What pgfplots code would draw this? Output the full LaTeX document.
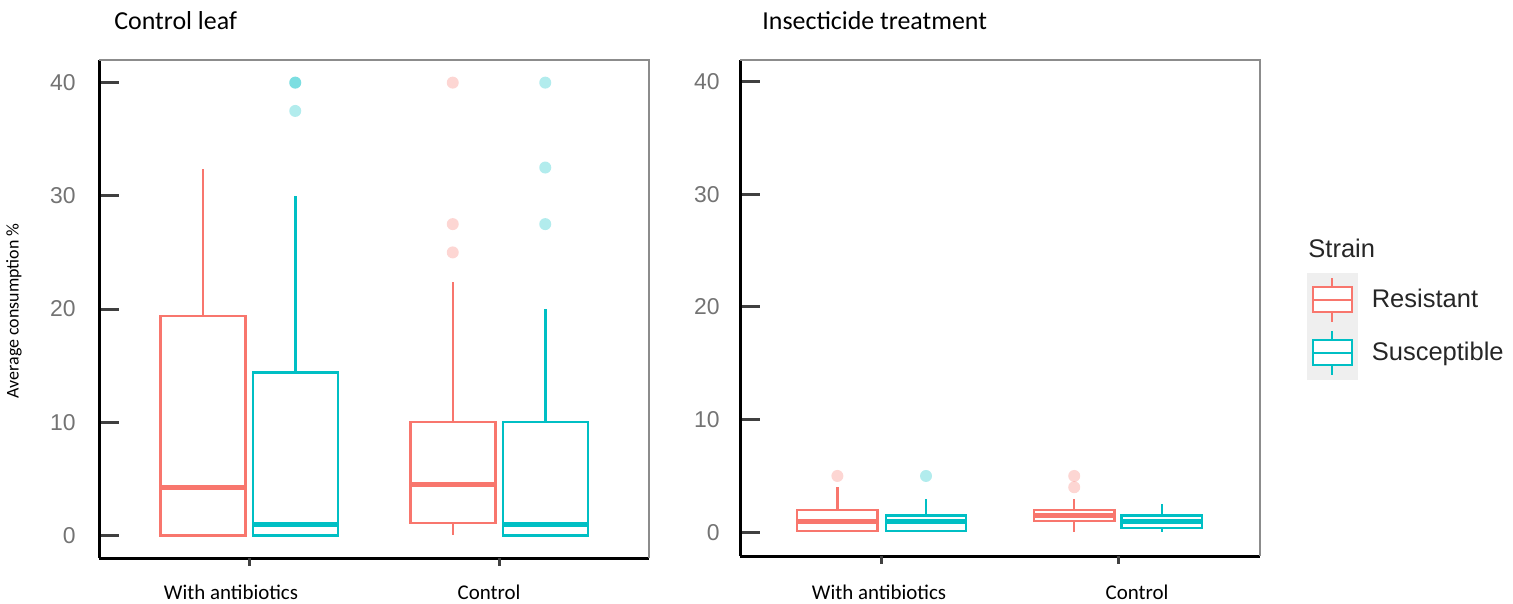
\documentclass[border=0pt]{standalone}
\usepackage{pgfplots}
\pgfplotsset{compat=1.18}
\usepgfplotslibrary{statistics}
\usepackage{fontspec}
\setmainfont{Carlito}
\newfontfamily\arial{Liberation Sans}
\definecolor{rcol}{HTML}{F8766D}
\definecolor{scol}{HTML}{00BFC4}
\definecolor{tickgray}{HTML}{737373}
\definecolor{keybg}{HTML}{EFEFEF}
\definecolor{framegray}{HTML}{8C8C8C}

\pgfplotsset{
  mybox/.style={
    scale only axis,
    axis lines=left,
    axis line style={-, line width=1.5bp, black},
    xmin=0.4, xmax=2.6,
    xtick={1,2}, xticklabels={},
    ytick={0,10,20,30,40},
    tick align=inside,
    major tick length=10bp,
    ytick style={line width=1.5bp, black!75},
    xtick style={draw=none},
    yticklabel style={font=\arial\fontsize{11.5}{12}\selectfont, text=tickgray, inner sep=0pt},
    /pgf/number format/assume math mode=true,
    clip=false,
    boxplot/draw direction=y,
    boxplot/box extend=0.34,
    boxplot/whisker extend=0,
    boxplot/every box/.style={fill=white, line width=1.25bp},
    boxplot/every whisker/.style={line width=1.25bp},
    boxplot/every median/.style={line width=2.5bp},
  },
  rbox/.style={draw=rcol, solid, mark=*, mark size=3bp,
    mark options={draw opacity=0, fill=rcol, fill opacity=0.3}, forget plot},
  sbox/.style={draw=scol, solid, mark=*, mark size=3bp,
    mark options={draw opacity=0, fill=scol, fill opacity=0.3}, forget plot},
}

\begin{document}
\begin{tikzpicture}
\useasboundingbox (0,0) rectangle (756.5bp,302bp);

% ---------------- Left panel: Control leaf ----------------
\begin{axis}[mybox,
  at={(49.5bp,23bp)}, anchor=south west,
  width=275bp, height=249bp,
  ymin=-2, ymax=42,
  yticklabel style={xshift=-11.5bp},
]
\addplot[rbox, boxplot prepared={draw position=0.815,
  lower whisker=0, lower quartile=0, median=4.2, upper quartile=19.4, upper whisker=32.4}]
  coordinates {};
\addplot[sbox, boxplot prepared={draw position=1.185,
  lower whisker=0, lower quartile=0, median=1, upper quartile=14.4, upper whisker=30}]
  table[row sep=\\, y index=0] {y\\40\\40\\37.5\\};
\addplot[rbox, boxplot prepared={draw position=1.815,
  lower whisker=0, lower quartile=1.1, median=4.5, upper quartile=10, upper whisker=22.4}]
  table[row sep=\\, y index=0] {y\\40\\27.5\\25\\};
\addplot[sbox, boxplot prepared={draw position=2.185,
  lower whisker=0, lower quartile=0, median=1, upper quartile=10, upper whisker=20}]
  table[row sep=\\, y index=0] {y\\40\\32.5\\27.5\\};
\draw[framegray, line width=1bp] (rel axis cs:0,1) -- (rel axis cs:1,1) -- (rel axis cs:1,0);
\draw[line width=1.5bp, black!75] (axis cs:1,-2) -- ([yshift=-4bp]axis cs:1,-2);
\draw[line width=1.5bp, black!75] (axis cs:2,-2) -- ([yshift=-4bp]axis cs:2,-2);
\end{axis}

% ---------------- Right panel: Insecticide treatment ----------------
\begin{axis}[mybox,
  at={(370bp,24bp)}, anchor=south west,
  width=260bp, height=248bp,
  ymin=-2.1, ymax=41.9,
  yticklabel style={xshift=-10bp},
  legend style={at={(1.0904,0.5706)}, anchor=north west, draw=none, fill=none,
    inner sep=0pt, outer sep=0pt, row sep=0pt,
    nodes={inner sep=0pt, text=black!85},
    font=\arial\fontsize{12.8}{13}\selectfont,
    /tikz/every odd column/.append style={column sep=7bp}},
  legend cell align=left,
]
\addplot[rbox, boxplot prepared={draw position=0.812,
  lower whisker=0, lower quartile=0.1, median=1, upper quartile=2, upper whisker=4}]
  table[row sep=\\, y index=0] {y\\5\\};
\addplot[sbox, boxplot prepared={draw position=1.187,
  lower whisker=0, lower quartile=0.1, median=1, upper quartile=1.5, upper whisker=3}]
  table[row sep=\\, y index=0] {y\\5\\};
\addplot[rbox, boxplot prepared={draw position=1.814,
  lower whisker=0, lower quartile=1, median=1.5, upper quartile=2, upper whisker=3}]
  table[row sep=\\, y index=0] {y\\5\\4\\};
\addplot[sbox, boxplot prepared={draw position=2.185,
  lower whisker=0, lower quartile=0.4, median=1, upper quartile=1.5, upper whisker=2.5}]
  coordinates {};
\draw[framegray, line width=1bp] (rel axis cs:0,1) -- (rel axis cs:1,1) -- (rel axis cs:1,0);
\draw[line width=1.5bp, black!75] (axis cs:1,-2.1) -- ([yshift=-4bp]axis cs:1,-2.1);
\draw[line width=1.5bp, black!75] (axis cs:2,-2.1) -- ([yshift=-4bp]axis cs:2,-2.1);

\addlegendimage{legend image code/.code={%
  \fill[keybg] (0bp,-13.125bp) rectangle (25bp,13.125bp);
  \draw[rcol, line width=1bp] (12.5bp,-11bp) -- (12.5bp,11bp);
  \draw[rcol, line width=1bp, fill=white] (3bp,-6.25bp) rectangle (22.5bp,6.25bp);
  \draw[rcol, line width=1bp] (3bp,0bp) -- (22.5bp,0bp);
}}
\addlegendentry{Resistant}
\addlegendimage{legend image code/.code={%
  \fill[keybg] (0bp,-13.125bp) rectangle (25bp,13.125bp);
  \draw[scol, line width=1bp] (12.5bp,-11bp) -- (12.5bp,11bp);
  \draw[scol, line width=1bp, fill=white] (3bp,-6.25bp) rectangle (22.5bp,6.25bp);
  \draw[scol, line width=1bp] (3bp,0bp) -- (22.5bp,0bp);
}}
\addlegendentry{Susceptible}
\end{axis}

% ---------------- Titles and labels ----------------
\node[anchor=base west, inner sep=0pt, font=\fontsize{13}{15}\selectfont] at (57bp,287bp) {Control leaf};
\node[anchor=base west, inner sep=0pt, font=\fontsize{13}{15}\selectfont] at (381bp,287bp) {Insecticide treatment};
\node[rotate=90, inner sep=0pt, font=\fontsize{9}{11}\selectfont] at (7bp,146.5bp) {Average consumption \%};
\node[anchor=base, inner sep=0pt, font=\fontsize{10.5}{12}\selectfont] at (115.5bp,2.5bp) {With antibiotics};
\node[anchor=base, inner sep=0pt, font=\fontsize{10.5}{12}\selectfont] at (244.5bp,2.5bp) {Control};
\node[anchor=base, inner sep=0pt, font=\fontsize{10.5}{12}\selectfont] at (439.5bp,2.5bp) {With antibiotics};
\node[anchor=base, inner sep=0pt, font=\fontsize{10.5}{12}\selectfont] at (568.5bp,2.5bp) {Control};
\node[anchor=base west, inner sep=0pt, text=black!85, font=\arial\fontsize{12.8}{14}\selectfont] at (654bp,173bp) {Strain};
\end{tikzpicture}
\end{document}
